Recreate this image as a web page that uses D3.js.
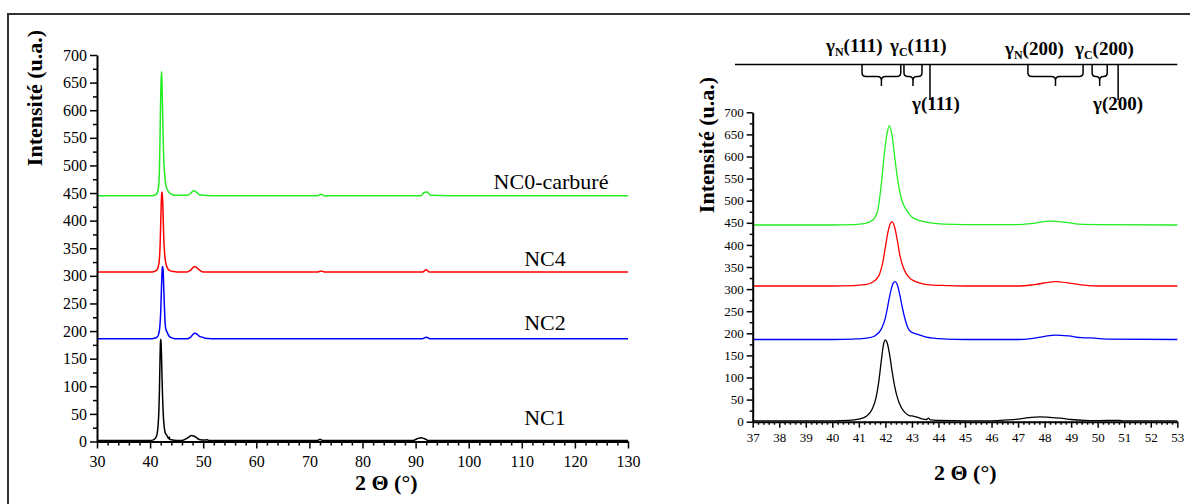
<!DOCTYPE html>
<html><head><meta charset="utf-8">
<script src="https://cdn.jsdelivr.net/npm/d3@7"></script>
<style>
body{margin:0;background:#fff}
svg{display:block}
text{font-family:"Liberation Serif","Times New Roman",serif;fill:#000}
</style>
</head><body>
<svg id="c" width="1190" height="504"></svg>
<script>
// ---------------- DATA ----------------
const seriesNames  = ["NC1", "NC2", "NC4", "NC0-carburé"];
const seriesColors = ["#000000", "#0000ff", "#ff0000", "#22ee22"];

// [2θ (°), intensité (u.a.)]
const nc1 = [[30,2],[35,2],[37,2],[40,2],[40.6,3],[41,6],[41.3,13],[41.5,28],[41.65,55],[41.75,90],[41.85,140],[41.93,175],[42.0,185],[42.07,178],[42.15,155],[42.25,115],[42.35,80],[42.45,55],[42.6,32],[42.75,20],[42.9,14],[43.0,13],[43.15,11],[43.35,7],[43.55,5],[43.62,8],[43.7,4],[44,3],[45,2],[46,2],[46.6,4],[47.0,6],[47.4,9],[47.8,11],[48.2,10],[48.6,8],[49.0,5],[49.5,3],[50,2.5],[50.8,3],[51,2],[53,2],[60,2],[71.5,2],[72,4],[72.5,2],[89.5,2],[90.3,5],[91,7],[91.7,5],[92.3,2],[110,2],[130,2]];
const nc2 = [[30,186],[37,186],[40,186],[40.8,187],[41.3,189],[41.6,194],[41.85,210],[42.0,235],[42.1,265],[42.2,295],[42.3,314],[42.37,317],[42.45,310],[42.55,285],[42.65,255],[42.75,230],[42.85,212],[42.95,204],[43.05,201],[43.2,198],[43.5,192],[43.8,189],[44.3,187],[45,186],[47,186],[47.5,188],[48.0,193],[48.4,196],[48.9,194],[49.4,190],[49.9,189],[50.3,187],[53,186],[60,186],[91.3,186],[92,189],[92.7,186],[130,186]];
const nc4 = [[30,307],[37,307],[40,307],[40.8,308],[41.2,310],[41.5,315],[41.75,330],[41.9,360],[42.0,395],[42.1,430],[42.2,450],[42.25,452],[42.35,440],[42.45,410],[42.55,375],[42.7,345],[42.9,326],[43.1,318],[43.4,312],[43.8,309],[44.3,308],[45,307],[47,307],[47.6,310],[48.4,317],[49.0,313],[49.5,309],[50,307],[53,307],[60,307],[71.5,307],[72.2,309],[72.8,307],[91.3,307],[92,311],[92.6,307],[130,307]];
const nc0 = [[30,445],[37,445],[40,445],[40.8,446],[41.2,448],[41.5,455],[41.7,475],[41.85,540],[41.95,600],[42.05,648],[42.15,670],[42.25,648],[42.35,600],[42.45,552],[42.6,505],[42.8,478],[43.0,463],[43.3,455],[43.7,450],[44.2,447],[45,446],[47,446],[47.5,448],[48.2,454],[48.8,451],[49.3,447],[50,446],[53,445],[60,445],[71.5,445],[72.2,448],[72.8,445],[91,445],[91.6,451],[92.2,452],[92.8,446],[100,445],[130,445]];
const seriesData = [nc1, nc2, nc4, nc0];

const yTickValues      = [0,50,100,150,200,250,300,350,400,450,500,550,600,650,700];
const xTickValuesLeft  = [30,40,50,60,70,80,90,100,110,120,130];
const xTickValuesRight = [37,38,39,40,41,42,43,44,45,46,47,48,49,50,51,52,53];

// reference peak positions (2θ) for the annotation bar
const braceRanges = [[41.12,42.58],[42.70,43.38],[47.37,49.45],[49.79,50.36]];
const refPeaks    = [43.68, 50.77];
const braceLabels = [["γ","N","(111)"],["γ","C","(111)"],["γ","N","(200)"],["γ","C","(200)"]];
const refLabels   = [["γ","","(111)"],["γ","","(200)"]];

// ---------------- LAYOUT ----------------
const svg = d3.select("#c");
const serif = '"Liberation Serif","Times New Roman",serif';

// frame (top + left visible)
svg.append("path").attr("d","M8,504 L8,14 L1190,14").attr("fill","none").attr("stroke","#333").attr("stroke-width",2);

function drawPanel(o){
  const x = d3.scaleLinear().domain(o.xDomain).range([o.x0,o.x1]);
  const y = d3.scaleLinear().domain([0,700]).range([o.y0,o.y1]);
  const g = svg.append("g");
  const clipId = "clip"+o.id;
  svg.append("clipPath").attr("id",clipId).append("rect")
    .attr("x",o.x0).attr("y",o.y1-20).attr("width",o.x1-o.x0).attr("height",o.y0-o.y1+20);
  const line = d3.line().x(d=>x(d[0])).y(d=>y(d[1])).curve(d3.curveMonotoneX);
  seriesData.forEach((s,i)=>{
    g.append("path").attr("d",line(s)).attr("fill","none")
      .attr("stroke",seriesColors[i]).attr("stroke-width",o.lw)
      .attr("stroke-linejoin","round").attr("clip-path",`url(#${clipId})`);
  });
  // minor ticks
  const minorY = d3.range(25,700,50);
  g.append("g").attr("transform",`translate(${o.x0},0)`)
    .call(d3.axisLeft(y).tickValues(minorY).tickSize(o.minorLen).tickFormat("").tickSizeOuter(0))
    .call(a=>a.select(".domain").remove());
  g.append("g").attr("transform",`translate(0,${o.y0})`)
    .call(d3.axisBottom(x).tickValues(o.minorX).tickSize(o.minorLen).tickFormat("").tickSizeOuter(0))
    .call(a=>a.select(".domain").remove());
  // major axes
  const ya = g.append("g").attr("transform",`translate(${o.x0},0)`)
    .call(d3.axisLeft(y).tickValues(yTickValues).tickSize(o.majorLen).tickPadding(o.yPad).tickSizeOuter(0));
  const xa = g.append("g").attr("transform",`translate(0,${o.y0})`)
    .call(d3.axisBottom(x).tickValues(o.xTicks).tickSize(o.majorLen).tickPadding(o.xPad).tickSizeOuter(0));
  [ya,xa].forEach(a=>{
    a.attr("font-family",null).attr("font-size",null);
    a.selectAll("text").style("font-family",serif).style("font-size",o.fs+"px").attr("fill","#000");
    a.select(".domain").attr("stroke-width",2);
  });
  g.selectAll(".tick line").attr("stroke","#000").attr("stroke-width",1.5);
  return {x,y};
}

const L = drawPanel({id:"L",xDomain:[30,130],x0:97,x1:628,y0:441.5,y1:55,lw:1.5,
  xTicks:xTickValuesLeft,minorX:d3.range(32,130,2).filter(v=>v%10!==0),
  majorLen:7,minorLen:4,yPad:3,xPad:7,fs:16});
const R = drawPanel({id:"R",xDomain:[37,53],x0:752.7,x1:1177.3,y0:421.7,y1:112.3,lw:1.3,
  xTicks:xTickValuesRight,minorX:d3.range(37.2,53,0.2).filter(v=>Math.abs(v-Math.round(v))>0.05),
  majorLen:6,minorLen:3,yPad:3,xPad:5,fs:13});

// axis titles
function ytitle(xc,yc){
  svg.append("text").attr("transform",`translate(${xc},${yc}) rotate(-90)`)
    .attr("text-anchor","middle").attr("dy","0.35em")
    .attr("font-size",22).attr("font-weight","bold").text("Intensité (u.a.)");
}
ytitle(34,98); ytitle(706,145);
function xtitle(xs,yb){
  svg.append("text").attr("x",xs).attr("y",yb).attr("font-size",22).attr("font-weight","bold")
    .text("2 Θ (°)");
}
xtitle(355,490); xtitle(934,480);

// series labels (left panel)
const labelPos = [[545,425],[545,330],[545,266],[551,189]];
seriesNames.forEach((n,i)=>{
  svg.append("text").attr("x",labelPos[i][0]).attr("y",labelPos[i][1])
    .attr("text-anchor","middle").attr("font-size",22).text(n);
});

// ---------------- ANNOTATION BAR ----------------
const ab = svg.append("g").attr("fill","none").attr("stroke","#000").attr("stroke-width",1.5);
const yBar = 64.5, yB = 76.5, yS = 86;
ab.append("line").attr("x1",735).attr("x2",R.x(53)).attr("y1",yBar).attr("y2",yBar);
braceRanges.forEach(([a,b])=>{
  const x1 = R.x(a), x2 = R.x(b), xc = (x1+x2)/2;
  const r = Math.min(4,(xc-x1)/2);
  const p = `M${x1},${yBar} L${x1},${yB-r} Q${x1},${yB} ${x1+r},${yB} L${xc-r},${yB} Q${xc},${yB} ${xc},${yB+r} L${xc},${yS}`+
            ` M${xc},${yB+r} Q${xc},${yB} ${xc+r},${yB} L${x2-r},${yB} Q${x2},${yB} ${x2},${yB-r} L${x2},${yBar}`;
  ab.append("path").attr("d",p);
});
refPeaks.forEach(v=>{
  ab.append("line").attr("x1",R.x(v)).attr("x2",R.x(v)).attr("y1",yBar).attr("y2",100);
});
function annot(lbl,xs,yb){
  const t = svg.append("text").attr("x",xs).attr("y",yb).attr("font-size",19).attr("font-weight","bold");
  t.append("tspan").text(lbl[0]);
  if(lbl[1]){
    t.append("tspan").attr("font-size",12).attr("dy",4).text(lbl[1]);
    t.append("tspan").attr("dy",-4).text(lbl[2]);
  } else t.append("tspan").text(lbl[2]);
}
const braceLabelPos = [[826,52],[890,52],[1005,55],[1075,55]];
braceLabels.forEach((l,i)=>annot(l,braceLabelPos[i][0],braceLabelPos[i][1]));
const refLabelPos = [[912,110],[1093,110]];
refLabels.forEach((l,i)=>annot(l,refLabelPos[i][0],refLabelPos[i][1]));
</script>
</body></html>
